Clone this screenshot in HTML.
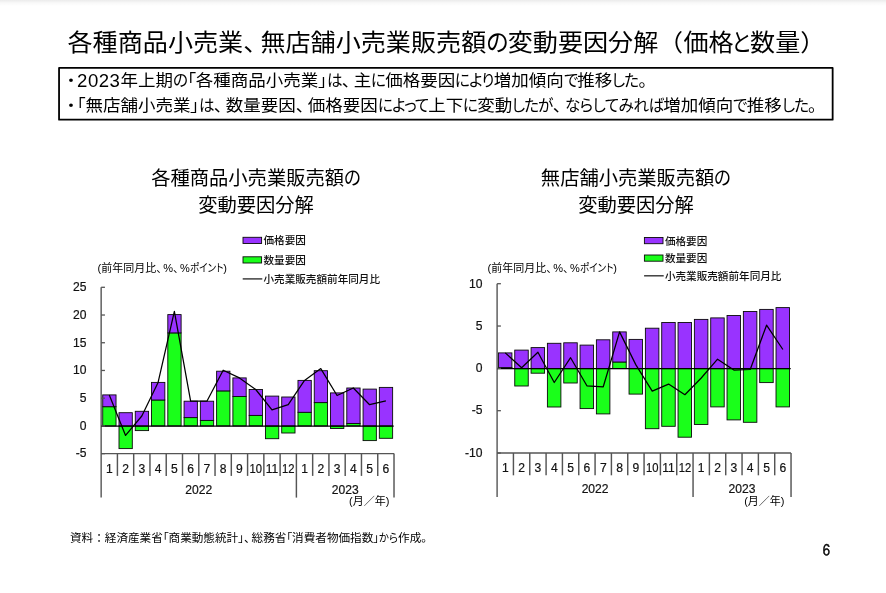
<!DOCTYPE html>
<html lang="ja"><head><meta charset="utf-8"><title>各種商品小売業、無店舗小売業販売額の変動要因分解（価格と数量）</title>
<style>
html,body{margin:0;padding:0;background:#fff;}
body{width:886px;height:593px;position:relative;overflow:hidden;font-family:"Liberation Sans","Noto Sans CJK JP",sans-serif;color:#000;}
.shade{position:absolute;left:0;top:0;width:886px;height:6px;background:linear-gradient(#ebebeb,#f8f8f8 45%,#fff);}
.t{position:absolute;white-space:nowrap;line-height:1;}
.k{display:inline-block;transform-origin:0 50%;font-feature-settings:"palt";}
.p,.c{font-feature-settings:normal;}
#src .p{margin-right:-4px;}
#title{left:67.5px;top:30px;font-size:25.1px;width:760px;height:26px;transform:scaleY(0.945);transform-origin:0 100%;}
#title span{position:absolute;top:0;transform-origin:0 50%;}
.b{font-size:17.5px;font-feature-settings:"palt";transform:scaleY(0.94);transform-origin:0 100%;}
.b .k{letter-spacing:-1.05px;}
.b .dot{display:inline-block;width:9px;text-align:center;margin-right:1.7px;}
.b .num{font-size:18.6px;letter-spacing:0.5px;display:inline-block;transform:scaleY(1.1);transform-origin:0 60%;}
.b .p{margin-right:-5.5px;}
#b1{left:66.4px;top:71.4px;}
#b2{left:66.4px;top:97.4px;}
#b2 .dot{margin-right:1.3px;}
.ct{font-size:19.3px;text-align:center;line-height:27px;width:300px;}
#ct1{left:106px;top:164.5px;}
#ct2{left:486px;top:164.5px;}
#src{left:70px;top:532.3px;font-size:11.6px;font-feature-settings:"palt";}
.un{font-size:11px;font-feature-settings:"palt";}
.un .p{margin-right:-4px;}
#pg{left:822.6px;top:543.1px;font-size:15.5px;-webkit-text-stroke:0.35px #000;font-family:"IPAGothic","Liberation Sans",sans-serif;}
svg{position:absolute;left:0;top:0;}
svg text{font-family:"Liberation Sans","Noto Sans CJK JP",sans-serif;fill:#111;}
.ax{font-size:12.1px;stroke:#111;stroke-width:0.2px;}
.lg{font-size:10.6px;font-weight:500;}
</style></head><body>
<div class="shade"></div>
<div id="title" class="t"><span style="left:0.00px;">各種商品小売業</span><span style="left:175.80px;">、</span><span style="left:192.90px;">無店舗小売業販売額</span><span style="left:418.35px;transform:scaleX(0.91)">の</span><span style="left:440.20px;">変動要因分解</span><span style="left:590.50px;">（</span><span style="left:615.90px;">価格</span><span style="left:663.60px;transform:scaleX(0.85)">と</span><span style="left:682.60px;">数量</span><span style="left:732.80px;">）</span></div>
<div id="b1" class="t b"><span class="dot">・</span><span class="num">2023</span>年上期<span class="k" id="ba1" style="transform:scaleX(0.89);margin-right:-1.74px">の</span>「各種商品小売業」<span class="k" id="ba3" style="transform:scaleX(0.89);margin-right:-1.81px">は</span><span class="p">、</span>主<span class="k" id="ba5" style="transform:scaleX(0.89);margin-right:-1.74px">に</span>価格要因<span class="k" id="ba7" style="transform:scaleX(0.89);margin-right:-4.75px">により</span>増加傾向<span class="k" id="ba9" style="transform:scaleX(0.89);margin-right:-1.66px">で</span>推移<span class="k" id="ba11" style="transform:scaleX(0.89);margin-right:-3.23px">した</span><span class="p">。</span></div>
<div id="b2" class="t b"><span class="dot">・</span>「無店舗小売業」<span class="k" id="bb1" style="transform:scaleX(0.89);margin-right:-1.81px">は</span><span class="p">、</span>数量要因<span class="p">、</span>価格要因<span class="k" id="bb3" style="transform:scaleX(0.89);margin-right:-6.22px">によって</span>上下<span class="k" id="bb5" style="transform:scaleX(0.89);margin-right:-1.74px">に</span>変動<span class="k" id="bb7" style="transform:scaleX(0.89);margin-right:-5.00px">したが</span><span class="p">、</span><span class="k" id="bb9" style="letter-spacing:-0.6px;transform:scaleX(0.89);margin-right:-12.18px">ならしてみれば</span>増加傾向<span class="k" id="bb11" style="transform:scaleX(0.89);margin-right:-1.66px">で</span>推移<span class="k" id="bb13" style="transform:scaleX(0.89);margin-right:-3.23px">した</span><span class="p">。</span></div>
<div id="ct1" class="t ct">各種商品小売業販売額<span class="k" id="ca1" style="transform:scaleX(0.9);margin-right:-1.86px">の</span><br>変動要因分解</div>
<div id="ct2" class="t ct">無店舗小売業販売額<span class="k" id="cb1" style="transform:scaleX(0.9);margin-right:-1.86px">の</span><br>変動要因分解</div>
<svg width="886" height="593" viewBox="0 0 886 593">
<rect x="59.05" y="67.9" width="773.6" height="51.8" fill="none" stroke="#000" stroke-width="1.8" stroke-linejoin="round"/>
<g id="left">
<rect x="102.73" y="406.70" width="13.30" height="19.20" fill="#1aff1a" stroke="#0a0a0a" stroke-width="0.9"/>
<rect x="102.73" y="394.90" width="13.30" height="11.80" fill="#9933ff" stroke="#0a0a0a" stroke-width="0.9"/>
<rect x="119.00" y="425.90" width="13.30" height="22.70" fill="#1aff1a" stroke="#0a0a0a" stroke-width="0.9"/>
<rect x="119.00" y="412.70" width="13.30" height="13.20" fill="#9933ff" stroke="#0a0a0a" stroke-width="0.9"/>
<rect x="135.27" y="425.90" width="13.30" height="4.70" fill="#1aff1a" stroke="#0a0a0a" stroke-width="0.9"/>
<rect x="135.27" y="411.30" width="13.30" height="14.60" fill="#9933ff" stroke="#0a0a0a" stroke-width="0.9"/>
<rect x="151.54" y="400.00" width="13.30" height="25.90" fill="#1aff1a" stroke="#0a0a0a" stroke-width="0.9"/>
<rect x="151.54" y="382.40" width="13.30" height="17.60" fill="#9933ff" stroke="#0a0a0a" stroke-width="0.9"/>
<rect x="167.81" y="332.90" width="13.30" height="93.00" fill="#1aff1a" stroke="#0a0a0a" stroke-width="0.9"/>
<rect x="167.81" y="314.60" width="13.30" height="18.30" fill="#9933ff" stroke="#0a0a0a" stroke-width="0.9"/>
<rect x="184.08" y="417.60" width="13.30" height="8.30" fill="#1aff1a" stroke="#0a0a0a" stroke-width="0.9"/>
<rect x="184.08" y="401.20" width="13.30" height="16.40" fill="#9933ff" stroke="#0a0a0a" stroke-width="0.9"/>
<rect x="200.35" y="420.40" width="13.30" height="5.50" fill="#1aff1a" stroke="#0a0a0a" stroke-width="0.9"/>
<rect x="200.35" y="401.20" width="13.30" height="19.20" fill="#9933ff" stroke="#0a0a0a" stroke-width="0.9"/>
<rect x="216.62" y="390.90" width="13.30" height="35.00" fill="#1aff1a" stroke="#0a0a0a" stroke-width="0.9"/>
<rect x="216.62" y="371.20" width="13.30" height="19.70" fill="#9933ff" stroke="#0a0a0a" stroke-width="0.9"/>
<rect x="232.89" y="396.50" width="13.30" height="29.40" fill="#1aff1a" stroke="#0a0a0a" stroke-width="0.9"/>
<rect x="232.89" y="377.90" width="13.30" height="18.60" fill="#9933ff" stroke="#0a0a0a" stroke-width="0.9"/>
<rect x="249.16" y="415.40" width="13.30" height="10.50" fill="#1aff1a" stroke="#0a0a0a" stroke-width="0.9"/>
<rect x="249.16" y="389.50" width="13.30" height="25.90" fill="#9933ff" stroke="#0a0a0a" stroke-width="0.9"/>
<rect x="265.44" y="425.90" width="13.30" height="12.80" fill="#1aff1a" stroke="#0a0a0a" stroke-width="0.9"/>
<rect x="265.44" y="396.10" width="13.30" height="29.80" fill="#9933ff" stroke="#0a0a0a" stroke-width="0.9"/>
<rect x="281.71" y="425.90" width="13.30" height="7.10" fill="#1aff1a" stroke="#0a0a0a" stroke-width="0.9"/>
<rect x="281.71" y="397.00" width="13.30" height="28.90" fill="#9933ff" stroke="#0a0a0a" stroke-width="0.9"/>
<rect x="297.98" y="412.30" width="13.30" height="13.60" fill="#1aff1a" stroke="#0a0a0a" stroke-width="0.9"/>
<rect x="297.98" y="380.40" width="13.30" height="31.90" fill="#9933ff" stroke="#0a0a0a" stroke-width="0.9"/>
<rect x="314.25" y="402.60" width="13.30" height="23.30" fill="#1aff1a" stroke="#0a0a0a" stroke-width="0.9"/>
<rect x="314.25" y="370.70" width="13.30" height="31.90" fill="#9933ff" stroke="#0a0a0a" stroke-width="0.9"/>
<rect x="330.52" y="425.90" width="13.30" height="2.60" fill="#1aff1a" stroke="#0a0a0a" stroke-width="0.9"/>
<rect x="330.52" y="392.90" width="13.30" height="33.00" fill="#9933ff" stroke="#0a0a0a" stroke-width="0.9"/>
<rect x="346.79" y="423.50" width="13.30" height="2.40" fill="#1aff1a" stroke="#0a0a0a" stroke-width="0.9"/>
<rect x="346.79" y="388.00" width="13.30" height="35.50" fill="#9933ff" stroke="#0a0a0a" stroke-width="0.9"/>
<rect x="363.06" y="425.90" width="13.30" height="14.70" fill="#1aff1a" stroke="#0a0a0a" stroke-width="0.9"/>
<rect x="363.06" y="389.10" width="13.30" height="36.80" fill="#9933ff" stroke="#0a0a0a" stroke-width="0.9"/>
<rect x="379.33" y="425.90" width="13.30" height="12.40" fill="#1aff1a" stroke="#0a0a0a" stroke-width="0.9"/>
<rect x="379.33" y="387.40" width="13.30" height="38.50" fill="#9933ff" stroke="#0a0a0a" stroke-width="0.9"/>
<path d="M101.15 287.3V497.6M101.15 453.6H394.0" fill="none" stroke="#555" stroke-width="1.4"/>
<path d="M101.15 426.15H393.70" fill="none" stroke="#000" stroke-width="1.15"/>
<path d="M101.15 287.3h3.8" stroke="#555" stroke-width="1.3"/>
<text x="86.45" y="291.1" text-anchor="end" class="ax">25</text>
<path d="M101.15 315.02h3.8" stroke="#555" stroke-width="1.3"/>
<text x="86.45" y="318.82" text-anchor="end" class="ax">20</text>
<path d="M101.15 342.74h3.8" stroke="#555" stroke-width="1.3"/>
<text x="86.45" y="346.54" text-anchor="end" class="ax">15</text>
<path d="M101.15 370.46000000000004h3.8" stroke="#555" stroke-width="1.3"/>
<text x="86.45" y="374.26000000000005" text-anchor="end" class="ax">10</text>
<path d="M101.15 398.18h3.8" stroke="#555" stroke-width="1.3"/>
<text x="86.45" y="401.98" text-anchor="end" class="ax">5</text>
<path d="M101.15 425.9h3.8" stroke="#555" stroke-width="1.3"/>
<text x="86.45" y="429.7" text-anchor="end" class="ax">0</text>
<path d="M101.15 453.62h3.8" stroke="#555" stroke-width="1.3"/>
<text x="86.45" y="457.42" text-anchor="end" class="ax">-5</text>
<path d="M117.42 453.6v22.3" stroke="#555" stroke-width="1.45"/>
<path d="M133.69 453.6v22.3" stroke="#555" stroke-width="1.45"/>
<path d="M149.96 453.6v22.3" stroke="#555" stroke-width="1.45"/>
<path d="M166.23 453.6v22.3" stroke="#555" stroke-width="1.45"/>
<path d="M182.50 453.6v22.3" stroke="#555" stroke-width="1.45"/>
<path d="M198.77 453.6v22.3" stroke="#555" stroke-width="1.45"/>
<path d="M215.04 453.6v22.3" stroke="#555" stroke-width="1.45"/>
<path d="M231.31 453.6v22.3" stroke="#555" stroke-width="1.45"/>
<path d="M247.58 453.6v22.3" stroke="#555" stroke-width="1.45"/>
<path d="M263.85 453.6v22.3" stroke="#555" stroke-width="1.45"/>
<path d="M280.12 453.6v22.3" stroke="#555" stroke-width="1.45"/>
<path d="M296.39 453.6v44" stroke="#555" stroke-width="1.45"/>
<path d="M312.66 453.6v22.3" stroke="#555" stroke-width="1.45"/>
<path d="M328.93 453.6v22.3" stroke="#555" stroke-width="1.45"/>
<path d="M345.20 453.6v22.3" stroke="#555" stroke-width="1.45"/>
<path d="M361.47 453.6v22.3" stroke="#555" stroke-width="1.45"/>
<path d="M377.74 453.6v22.3" stroke="#555" stroke-width="1.45"/>
<path d="M394.01 453.6v44" stroke="#555" stroke-width="1.45"/>
<text x="109.29" y="472.6" text-anchor="middle" class="ax">1</text>
<text x="125.56" y="472.6" text-anchor="middle" class="ax">2</text>
<text x="141.82" y="472.6" text-anchor="middle" class="ax">3</text>
<text x="158.09" y="472.6" text-anchor="middle" class="ax">4</text>
<text x="174.37" y="472.6" text-anchor="middle" class="ax">5</text>
<text x="190.63" y="472.6" text-anchor="middle" class="ax">6</text>
<text x="206.91" y="472.6" text-anchor="middle" class="ax">7</text>
<text x="223.18" y="472.6" text-anchor="middle" class="ax">8</text>
<text x="239.44" y="472.6" text-anchor="middle" class="ax">9</text>
<text x="255.72" y="472.6" text-anchor="middle" class="ax" textLength="12.5" lengthAdjust="spacingAndGlyphs">10</text>
<text x="271.99" y="472.6" text-anchor="middle" class="ax" textLength="12.5" lengthAdjust="spacingAndGlyphs">11</text>
<text x="288.25" y="472.6" text-anchor="middle" class="ax" textLength="12.5" lengthAdjust="spacingAndGlyphs">12</text>
<text x="304.52" y="472.6" text-anchor="middle" class="ax">1</text>
<text x="320.79" y="472.6" text-anchor="middle" class="ax">2</text>
<text x="337.06" y="472.6" text-anchor="middle" class="ax">3</text>
<text x="353.34" y="472.6" text-anchor="middle" class="ax">4</text>
<text x="369.61" y="472.6" text-anchor="middle" class="ax">5</text>
<text x="385.88" y="472.6" text-anchor="middle" class="ax">6</text>
<text x="198.77" y="493.6" text-anchor="middle" class="ax">2022</text>
<text x="345.20" y="493.6" text-anchor="middle" class="ax">2023</text>
<polyline points="109.29,394.90 125.56,435.40 141.82,416.00 158.09,382.40 174.37,311.30 190.63,401.20 206.91,401.20 223.18,370.20 239.44,377.90 255.72,389.50 271.99,409.90 288.25,404.60 304.52,380.40 320.79,368.60 337.06,395.50 353.34,388.00 369.61,404.70 385.88,400.90" fill="none" stroke="#000" stroke-width="1.25" stroke-linejoin="round"/>
<rect x="243" y="237.3" width="18.6" height="6.2" fill="#9933ff" stroke="#0a0a0a" stroke-width="0.9"/>
<rect x="243" y="256.8" width="18.6" height="6.2" fill="#1aff1a" stroke="#0a0a0a" stroke-width="0.9"/>
<path d="M242.7 278.9h19.6" stroke="#333" stroke-width="1.4"/>
<text x="263.5" y="244.3" class="lg">価格要因</text>
<text x="263.5" y="263.8" class="lg">数量要因</text>
<text x="263.5" y="282.79999999999995" class="lg">小売業販売額前年同月比</text>
</g>
<g id="right">
<rect x="498.42" y="367.60" width="13.50" height="1.00" fill="#1aff1a" stroke="#0a0a0a" stroke-width="0.9"/>
<rect x="498.42" y="352.90" width="13.50" height="14.70" fill="#9933ff" stroke="#0a0a0a" stroke-width="0.9"/>
<rect x="514.75" y="368.60" width="13.50" height="17.40" fill="#1aff1a" stroke="#0a0a0a" stroke-width="0.9"/>
<rect x="514.75" y="350.10" width="13.50" height="18.50" fill="#9933ff" stroke="#0a0a0a" stroke-width="0.9"/>
<rect x="531.08" y="368.60" width="13.50" height="4.60" fill="#1aff1a" stroke="#0a0a0a" stroke-width="0.9"/>
<rect x="531.08" y="347.60" width="13.50" height="21.00" fill="#9933ff" stroke="#0a0a0a" stroke-width="0.9"/>
<rect x="547.40" y="368.60" width="13.50" height="38.40" fill="#1aff1a" stroke="#0a0a0a" stroke-width="0.9"/>
<rect x="547.40" y="343.30" width="13.50" height="25.30" fill="#9933ff" stroke="#0a0a0a" stroke-width="0.9"/>
<rect x="563.74" y="368.60" width="13.50" height="14.40" fill="#1aff1a" stroke="#0a0a0a" stroke-width="0.9"/>
<rect x="563.74" y="342.80" width="13.50" height="25.80" fill="#9933ff" stroke="#0a0a0a" stroke-width="0.9"/>
<rect x="580.06" y="368.60" width="13.50" height="40.00" fill="#1aff1a" stroke="#0a0a0a" stroke-width="0.9"/>
<rect x="580.06" y="345.10" width="13.50" height="23.50" fill="#9933ff" stroke="#0a0a0a" stroke-width="0.9"/>
<rect x="596.39" y="368.60" width="13.50" height="45.30" fill="#1aff1a" stroke="#0a0a0a" stroke-width="0.9"/>
<rect x="596.39" y="339.80" width="13.50" height="28.80" fill="#9933ff" stroke="#0a0a0a" stroke-width="0.9"/>
<rect x="612.73" y="362.00" width="13.50" height="6.60" fill="#1aff1a" stroke="#0a0a0a" stroke-width="0.9"/>
<rect x="612.73" y="331.90" width="13.50" height="30.10" fill="#9933ff" stroke="#0a0a0a" stroke-width="0.9"/>
<rect x="629.05" y="368.60" width="13.50" height="25.50" fill="#1aff1a" stroke="#0a0a0a" stroke-width="0.9"/>
<rect x="629.05" y="339.40" width="13.50" height="29.20" fill="#9933ff" stroke="#0a0a0a" stroke-width="0.9"/>
<rect x="645.38" y="368.60" width="13.50" height="60.10" fill="#1aff1a" stroke="#0a0a0a" stroke-width="0.9"/>
<rect x="645.38" y="328.20" width="13.50" height="40.40" fill="#9933ff" stroke="#0a0a0a" stroke-width="0.9"/>
<rect x="661.72" y="368.60" width="13.50" height="57.70" fill="#1aff1a" stroke="#0a0a0a" stroke-width="0.9"/>
<rect x="661.72" y="322.50" width="13.50" height="46.10" fill="#9933ff" stroke="#0a0a0a" stroke-width="0.9"/>
<rect x="678.04" y="368.60" width="13.50" height="68.60" fill="#1aff1a" stroke="#0a0a0a" stroke-width="0.9"/>
<rect x="678.04" y="322.50" width="13.50" height="46.10" fill="#9933ff" stroke="#0a0a0a" stroke-width="0.9"/>
<rect x="694.38" y="368.60" width="13.50" height="55.90" fill="#1aff1a" stroke="#0a0a0a" stroke-width="0.9"/>
<rect x="694.38" y="319.40" width="13.50" height="49.20" fill="#9933ff" stroke="#0a0a0a" stroke-width="0.9"/>
<rect x="710.71" y="368.60" width="13.50" height="38.30" fill="#1aff1a" stroke="#0a0a0a" stroke-width="0.9"/>
<rect x="710.71" y="317.90" width="13.50" height="50.70" fill="#9933ff" stroke="#0a0a0a" stroke-width="0.9"/>
<rect x="727.03" y="368.60" width="13.50" height="51.30" fill="#1aff1a" stroke="#0a0a0a" stroke-width="0.9"/>
<rect x="727.03" y="315.50" width="13.50" height="53.10" fill="#9933ff" stroke="#0a0a0a" stroke-width="0.9"/>
<rect x="743.37" y="368.60" width="13.50" height="53.70" fill="#1aff1a" stroke="#0a0a0a" stroke-width="0.9"/>
<rect x="743.37" y="311.50" width="13.50" height="57.10" fill="#9933ff" stroke="#0a0a0a" stroke-width="0.9"/>
<rect x="759.70" y="368.60" width="13.50" height="14.00" fill="#1aff1a" stroke="#0a0a0a" stroke-width="0.9"/>
<rect x="759.70" y="309.40" width="13.50" height="59.20" fill="#9933ff" stroke="#0a0a0a" stroke-width="0.9"/>
<rect x="776.02" y="368.60" width="13.50" height="38.30" fill="#1aff1a" stroke="#0a0a0a" stroke-width="0.9"/>
<rect x="776.02" y="307.60" width="13.50" height="61.00" fill="#9933ff" stroke="#0a0a0a" stroke-width="0.9"/>
<path d="M497.1 283.7V497.0M497.1 453.0H791.0" fill="none" stroke="#555" stroke-width="1.4"/>
<path d="M497.1 368.6H790.70" fill="none" stroke="#000" stroke-width="1.15"/>
<path d="M497.1 283.7h3.8" stroke="#555" stroke-width="1.3"/>
<text x="482.40000000000003" y="287.5" text-anchor="end" class="ax">10</text>
<path d="M497.1 326.03h3.8" stroke="#555" stroke-width="1.3"/>
<text x="482.40000000000003" y="329.83" text-anchor="end" class="ax">5</text>
<path d="M497.1 368.36h3.8" stroke="#555" stroke-width="1.3"/>
<text x="482.40000000000003" y="372.16" text-anchor="end" class="ax">0</text>
<path d="M497.1 410.69h3.8" stroke="#555" stroke-width="1.3"/>
<text x="482.40000000000003" y="414.49" text-anchor="end" class="ax">-5</text>
<path d="M497.1 453.02h3.8" stroke="#555" stroke-width="1.3"/>
<text x="482.40000000000003" y="456.82" text-anchor="end" class="ax">-10</text>
<path d="M513.43 453.0v22.3" stroke="#555" stroke-width="1.45"/>
<path d="M529.76 453.0v22.3" stroke="#555" stroke-width="1.45"/>
<path d="M546.09 453.0v22.3" stroke="#555" stroke-width="1.45"/>
<path d="M562.42 453.0v22.3" stroke="#555" stroke-width="1.45"/>
<path d="M578.75 453.0v22.3" stroke="#555" stroke-width="1.45"/>
<path d="M595.08 453.0v22.3" stroke="#555" stroke-width="1.45"/>
<path d="M611.41 453.0v22.3" stroke="#555" stroke-width="1.45"/>
<path d="M627.74 453.0v22.3" stroke="#555" stroke-width="1.45"/>
<path d="M644.07 453.0v22.3" stroke="#555" stroke-width="1.45"/>
<path d="M660.40 453.0v22.3" stroke="#555" stroke-width="1.45"/>
<path d="M676.73 453.0v22.3" stroke="#555" stroke-width="1.45"/>
<path d="M693.06 453.0v44" stroke="#555" stroke-width="1.45"/>
<path d="M709.39 453.0v22.3" stroke="#555" stroke-width="1.45"/>
<path d="M725.72 453.0v22.3" stroke="#555" stroke-width="1.45"/>
<path d="M742.05 453.0v22.3" stroke="#555" stroke-width="1.45"/>
<path d="M758.38 453.0v22.3" stroke="#555" stroke-width="1.45"/>
<path d="M774.71 453.0v22.3" stroke="#555" stroke-width="1.45"/>
<path d="M791.04 453.0v44" stroke="#555" stroke-width="1.45"/>
<text x="505.27" y="472.0" text-anchor="middle" class="ax">1</text>
<text x="521.60" y="472.0" text-anchor="middle" class="ax">2</text>
<text x="537.93" y="472.0" text-anchor="middle" class="ax">3</text>
<text x="554.25" y="472.0" text-anchor="middle" class="ax">4</text>
<text x="570.59" y="472.0" text-anchor="middle" class="ax">5</text>
<text x="586.91" y="472.0" text-anchor="middle" class="ax">6</text>
<text x="603.25" y="472.0" text-anchor="middle" class="ax">7</text>
<text x="619.58" y="472.0" text-anchor="middle" class="ax">8</text>
<text x="635.90" y="472.0" text-anchor="middle" class="ax">9</text>
<text x="652.24" y="472.0" text-anchor="middle" class="ax" textLength="12.5" lengthAdjust="spacingAndGlyphs">10</text>
<text x="668.57" y="472.0" text-anchor="middle" class="ax" textLength="12.5" lengthAdjust="spacingAndGlyphs">11</text>
<text x="684.89" y="472.0" text-anchor="middle" class="ax" textLength="12.5" lengthAdjust="spacingAndGlyphs">12</text>
<text x="701.23" y="472.0" text-anchor="middle" class="ax">1</text>
<text x="717.56" y="472.0" text-anchor="middle" class="ax">2</text>
<text x="733.88" y="472.0" text-anchor="middle" class="ax">3</text>
<text x="750.22" y="472.0" text-anchor="middle" class="ax">4</text>
<text x="766.55" y="472.0" text-anchor="middle" class="ax">5</text>
<text x="782.88" y="472.0" text-anchor="middle" class="ax">6</text>
<text x="595.08" y="493.0" text-anchor="middle" class="ax">2022</text>
<text x="742.05" y="493.0" text-anchor="middle" class="ax">2023</text>
<polyline points="505.27,352.90 521.60,367.80 537.93,352.20 554.25,382.50 570.59,357.70 586.91,385.80 603.25,386.80 619.58,331.90 635.90,364.90 652.24,391.10 668.57,384.10 684.89,394.70 701.23,378.00 717.56,359.20 733.88,370.10 750.22,369.50 766.55,325.20 782.88,349.50" fill="none" stroke="#000" stroke-width="1.25" stroke-linejoin="round"/>
<rect x="644.4" y="237.5" width="18.6" height="6.2" fill="#9933ff" stroke="#0a0a0a" stroke-width="0.9"/>
<rect x="644.4" y="255.0" width="18.6" height="6.2" fill="#1aff1a" stroke="#0a0a0a" stroke-width="0.9"/>
<path d="M644.1 275.8h19.6" stroke="#333" stroke-width="1.4"/>
<text x="664.9" y="244.5" class="lg">価格要因</text>
<text x="664.9" y="262.0" class="lg">数量要因</text>
<text x="664.9" y="279.7" class="lg">小売業販売額前年同月比</text>
</g>
</svg>
<div class="t un" style="left:97.5px;top:262.8px">(前年同月比<span class="p">、</span>%<span class="p">、</span>%<span class="k" id="ua1" style="transform:scaleX(0.87);margin-right:-5.01px">ポイント</span>)</div>
<div class="t un" style="left:487.5px;top:262.8px">(前年同月比<span class="p">、</span>%<span class="p">、</span>%<span class="k" id="ub1" style="transform:scaleX(0.87);margin-right:-5.01px">ポイント</span>)</div>
<div class="t un" style="left:349px;top:496.3px">(月／年)</div>
<div class="t un" style="left:744.2px;top:496.3px">(月／年)</div>
<div id="src" class="t">資料<span class="c">：</span>経済産業省「商業動態統計」<span class="p">、</span>総務省「消費者物価指数」<span class="k" id="sr1" style="transform:scaleX(0.89);margin-right:-2.34px">から</span>作成<span class="p">。</span></div>
<div id="pg" class="t">6</div>
</body></html>
